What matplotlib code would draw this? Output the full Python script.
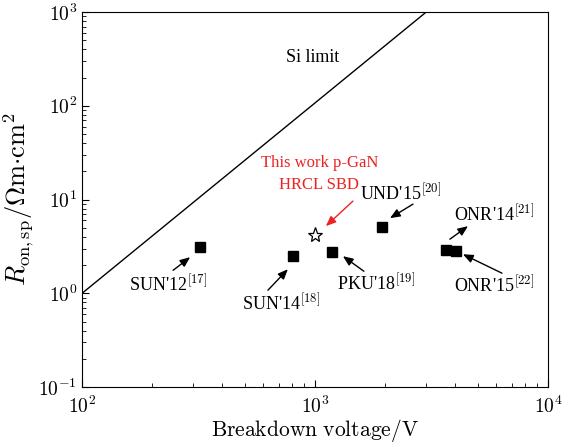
import numpy as np
import matplotlib.pyplot as plt
from matplotlib.ticker import LogLocator, FuncFormatter, NullFormatter

plt.rcParams['mathtext.fontset'] = 'cm'
plt.rcParams['font.family'] = 'Liberation Serif'

# Si limit line (breakdown voltage V, Ron,sp mOhm.cm2)
si_bv = [100, 3000]
si_ron = [1.0, 1000.0]

# reported devices
dev_names = ["SUN'12", "SUN'14", "PKU'18", "UND'15", "ONR'14", "ONR'15"]
dev_refs = ["17", "18", "19", "20", "21", "22"]
dev_bv = [321, 805, 1183, 1941, 3648, 4027]
dev_ron = [3.1, 2.49, 2.74, 5.08, 2.88, 2.81]

# this work
this_bv = [1000]
this_ron = [4.17]

# label layout: text position, arrow tail, arrow head (data coords)
label_pos = [(234, 1.25), (715, 0.78), (1828, 1.28), (2339, 11.7), (5861, 6.83), (5861, 1.22)]
arrow_tail = [(246, 1.76), (628, 1.08), (1622, 1.72), (2635, 8.95), (3793, 3.78), (6349, 1.64)]
arrow_head = [(291, 2.43), (765, 1.81), (1318, 2.49), (2099, 6.34), (4536, 5.21), (4315, 2.61)]

fig = plt.figure(figsize=(5.62, 4.48), dpi=100)
ax = fig.add_axes([0.146, 0.136, 0.829, 0.837])

ax.plot(si_bv, si_ron, color='black', lw=1.0)
ax.plot(dev_bv, dev_ron, 's', color='black', ms=6.5, ls='none')
ax.plot(this_bv, this_ron, '*', mfc='white', mec='black', ms=11, mew=0.9, ls='none')

ax.set_xscale('log')
ax.set_yscale('log')
ax.set_xlim(100, 10000)
ax.set_ylim(0.1, 1000)

fmt = FuncFormatter(lambda v, p: r"$10^{%d}$" % int(round(np.log10(v))))
for axis in [ax.xaxis, ax.yaxis]:
    axis.set_major_locator(LogLocator(base=10, numticks=10))
    axis.set_minor_locator(LogLocator(base=10, subs=np.arange(2, 10), numticks=20))
    axis.set_major_formatter(fmt)
    axis.set_minor_formatter(NullFormatter())
ax.tick_params(which='both', direction='in', top=False, right=False, labelsize=14)
ax.tick_params(which='major', length=5, width=0.8)
ax.tick_params(which='minor', length=3, width=0.6)
ax.tick_params(axis='x', pad=6)

ax.set_xlabel(r"$\rm Breakdown\ voltage/V$", fontsize=15.5, labelpad=0)
ax.set_ylabel(r"$R_{\rm on,sp}/\mathit{\Omega}{\rm m{\cdot}cm^2}$", fontsize=19, labelpad=2)

for name, ref, pos, tail, head in zip(dev_names, dev_refs, label_pos, arrow_tail, arrow_head):
    ax.text(pos[0], pos[1], name + r"$^{\rm [" + ref + "]}$", ha='center', va='center',
            fontsize=13)
    ax.annotate("", xy=head, xytext=tail,
                arrowprops=dict(arrowstyle='-|>,head_length=0.6,head_width=0.25',
                                color='black', lw=1.0, shrinkA=0, shrinkB=0))

ax.text(980, 326, "Si limit", ha='center', va='center', fontsize=13)
ax.text(1050, 24.6, "This work p-GaN", ha='center', va='center',
        fontsize=12, color='#ee2222')
ax.text(1040, 14.3, "HRCL SBD", ha='center', va='center',
        fontsize=12, color='#ee2222')
ax.annotate("", xy=(1114, 5.21), xytext=(1455, 9.64),
            arrowprops=dict(arrowstyle='-|>,head_length=0.6,head_width=0.25',
                            color='#ee2222', lw=1.0, shrinkA=0, shrinkB=0))

fig.savefig("out.png", dpi=100)
